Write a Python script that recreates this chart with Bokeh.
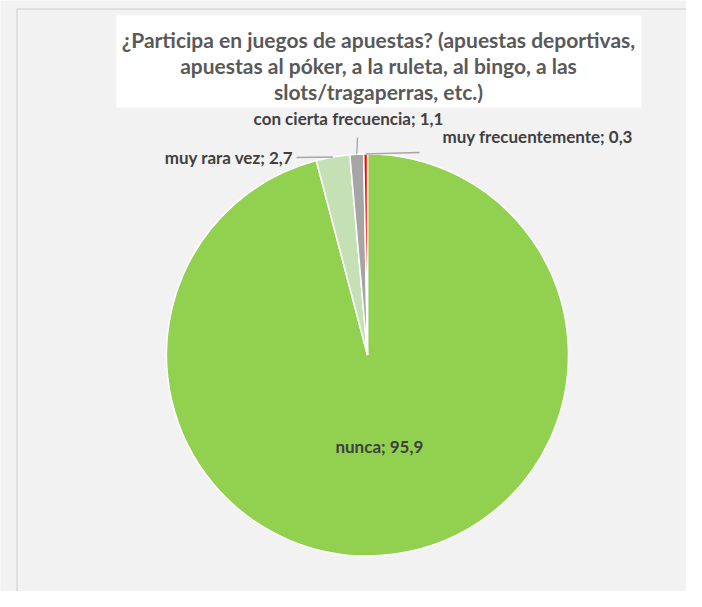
import numpy as np
from bokeh.plotting import figure
from bokeh.models import Range1d, ColumnDataSource
from bokeh.core.properties import value
from bokeh.embed import file_html
from bokeh.resources import INLINE

# ---- data ----
categories = ["nunca", "muy rara vez", "con cierta frecuencia", "muy frecuentemente"]
values = [95.9, 2.7, 1.1, 0.3]
value_labels = ["95,9", "2,7", "1,1", "0,3"]
colors = ["#92D050", "#C5E0B4", "#A5A5A5", "#FF0000"]
title_lines = [
    "¿Participa en juegos de apuestas? (apuestas deportivas,",
    "apuestas al póker, a la ruleta, al bingo, a las",
    "slots/tragaperras, etc.)",
]

# ---- layout helpers (pixel positions of the screenshot -> data units) ----
W, H = 686, 591
def X(px):
    return px
def Y(py):
    return H - py

FONT = "Lato"
LABEL_SIZE = "17px"
p = figure(width=W, height=H, x_range=Range1d(0, W), y_range=Range1d(0, H),
           output_backend="svg", toolbar_location=None, min_border=0)
p.axis.visible = False
p.grid.visible = False
p.outline_line_color = None
p.background_fill_color = "#F2F2F2"
p.border_fill_color = "#F2F2F2"

# frame lines
p.segment(x0=[X(16.5), X(16.5)], y0=[Y(8), Y(8.5)], x1=[X(16.5), X(702)], y1=[Y(607), Y(8.5)],
          line_color="#D9D9D9", line_width=1.5)

# title box
p.quad(left=X(116), right=X(641), top=Y(15), bottom=Y(107), fill_color="white", line_color=None)
p.text(x=[X(378)] * 3, y=[Y(39), Y(65), Y(91)], text=title_lines,
       text_font=value(FONT), text_font_style="bold", text_font_size="21px",
       text_color="#595959", text_align="center", text_baseline="middle")

# pie
cx, cy, R = X(367), Y(354.5), 201
frac = np.array(values) / sum(values)
cum = np.concatenate([[0.0], np.cumsum(frac)])
start = np.pi / 2 - cum[:-1] * 2 * np.pi
end = np.pi / 2 - cum[1:] * 2 * np.pi
mid = (start + end) / 2
src = ColumnDataSource(dict(start=start, end=end, color=colors, cat=categories))
p.wedge(x=cx, y=cy, radius=R, start_angle="start", end_angle="end", direction="clock",
        fill_color="color", line_color="white", line_width=1.5, source=src)

labels = [f"{c}; {v}" for c, v in zip(categories, value_labels)]

# inside label for the big slice
p.text(x=[cx + 0.46 * R * np.cos(mid[0])], y=[cy + 0.46 * R * np.sin(mid[0])], text=[labels[0]],
       text_font=value(FONT), text_font_style="bold", text_font_size=LABEL_SIZE,
       text_color="#404040", text_align="center", text_baseline="middle")

# leader lines from the arc to the outside labels
ax = cx + R * np.cos(mid[1:])
ay = cy + R * np.sin(mid[1:])
lead_end_x = [X(296), X(357), X(419)]
lead_end_y = [Y(157), Y(137), Y(152)]
p.segment(x0=ax, y0=ay, x1=lead_end_x, y1=lead_end_y, line_color="#A6A6A6", line_width=1.3)

# outside labels
p.text(x=[X(293)], y=[Y(157)], text=[labels[1]], text_font=value(FONT), text_font_style="bold",
       text_font_size=LABEL_SIZE, text_color="#404040", text_align="right", text_baseline="middle")
p.text(x=[X(348)], y=[Y(118)], text=[labels[2]], text_font=value(FONT), text_font_style="bold",
       text_font_size=LABEL_SIZE, text_color="#404040", text_align="center", text_baseline="middle")
p.text(x=[X(442)], y=[Y(136)], text=[labels[3]], text_font=value(FONT), text_font_style="bold",
       text_font_size=LABEL_SIZE, text_color="#404040", text_align="left", text_baseline="middle")

open("out.html", "w").write(file_html(p, INLINE))
